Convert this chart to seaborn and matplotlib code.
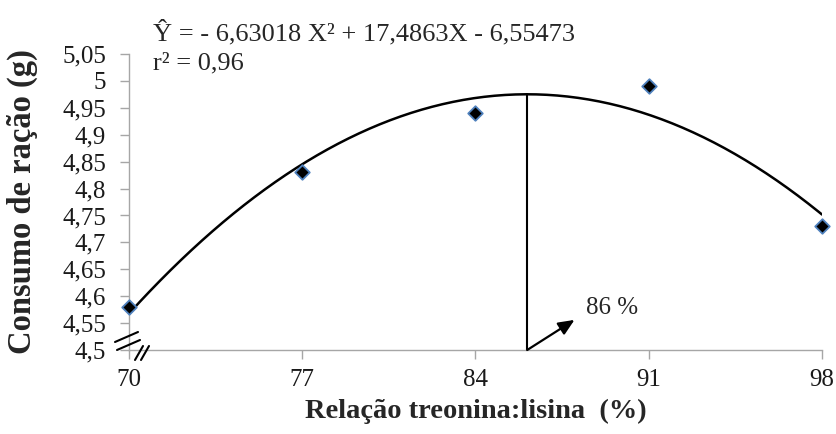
import numpy as np
import pandas as pd
import matplotlib
matplotlib.use("Agg")
import matplotlib.pyplot as plt
import seaborn as sns

# Data
ratio = [70, 77, 84, 91, 98]
consumo = [4.58, 4.83, 4.94, 4.99, 4.73]
xticks = [70, 77, 84, 91, 98]
yticks = [4.5, 4.55, 4.6, 4.65, 4.7, 4.75, 4.8, 4.85, 4.9, 4.95, 5.0, 5.05]
ytick_labels = ["4,5", "4,55", "4,6", "4,65", "4,7", "4,75", "4,8", "4,85",
                "4,9", "4,95", "5", "5,05"]
equation = "Ŷ = - 6,63018 X² + 17,4863X - 6,55473"
r2_text = "r² = 0,96"
optimum_label = "86 %"

sns.set_theme(style="white")
plt.rcParams['font.family'] = ['Liberation Serif', 'DejaVu Serif']

df = pd.DataFrame({"x": ratio, "y": consumo})

# quadratic regression from data
coef = np.polyfit(ratio, consumo, 2)
xs = np.linspace(min(ratio), max(ratio), 200)
curve = pd.DataFrame({"x": xs, "y": np.polyval(coef, xs)})
x_opt = -coef[1] / (2 * coef[0])
y_opt = np.polyval(coef, x_opt)

fig = plt.figure(figsize=(8.37, 4.34), dpi=100)
ax = fig.add_axes([0.1541, 0.1935, 0.8280, 0.6821])

sns.lineplot(data=curve, x="x", y="y", color="black", linewidth=1.8, ax=ax, zorder=2)
sns.scatterplot(data=df, x="x", y="y", marker="D", s=55, color="black",
                edgecolor="#4f81bd", linewidth=1.3, ax=ax, zorder=3, clip_on=False)

ax.plot([x_opt, x_opt], [4.5, y_opt], color="black", linewidth=1.5, zorder=2)
ax.annotate("", xy=(88.0, 4.556), xytext=(x_opt, 4.5),
            arrowprops=dict(arrowstyle="-|>,head_length=0.8,head_width=0.35",
                            color="black", lw=1.6, shrinkA=0, shrinkB=0))
ax.text(88.45, 4.578, optimum_label, fontsize=18, va="center", ha="left")

ax.set_xlim(70, 98)
ax.set_ylim(4.5, 5.05)
ax.set_xticks(xticks)
ax.set_xticklabels([str(v) for v in xticks])
ax.set_yticks(yticks)
ax.set_yticklabels(ytick_labels)

for s in ["top", "right"]:
    ax.spines[s].set_visible(False)
for s in ["left", "bottom"]:
    ax.spines[s].set_color("#a6a6a6")
    ax.spines[s].set_linewidth(1.0)
ax.tick_params(axis="both", which="major", direction="out", length=6.5,
               width=1.0, color="#a6a6a6", labelsize=18, labelcolor="#1a1a1a")
ax.tick_params(axis="x", pad=7)
ax.tick_params(axis="y", pad=10)
ax.xaxis.set_ticks_position("bottom")
ax.yaxis.set_ticks_position("left")

ax.set_xlabel("Relação treonina:lisina  (%)", fontsize=20.5, fontweight="bold", labelpad=6)
ax.set_ylabel("Consumo de ração (g)", fontsize=23.5, fontweight="bold")
ax.yaxis.set_label_coords(-(129 - 38) / 693, 0.5)

# equation text
fig.text(153 / 837, 1 - 40 / 434, equation, fontsize=19, ha="left", va="baseline")
fig.text(153 / 837, 1 - 69 / 434, r2_text, fontsize=19, ha="left", va="baseline")


def seg(x0, y0, x1, y1):
    line = plt.Line2D([x0 / 837, x1 / 837], [1 - y0 / 434, 1 - y1 / 434],
                      transform=fig.transFigure, color="black", linewidth=1.5)
    fig.add_artist(line)


# axis break marks (figure pixel coords)
seg(115, 342, 138, 332)
seg(117, 350, 140, 340)
seg(135, 360, 143, 346)
seg(141, 360, 149, 346)

fig.savefig("out.png", dpi=100)
